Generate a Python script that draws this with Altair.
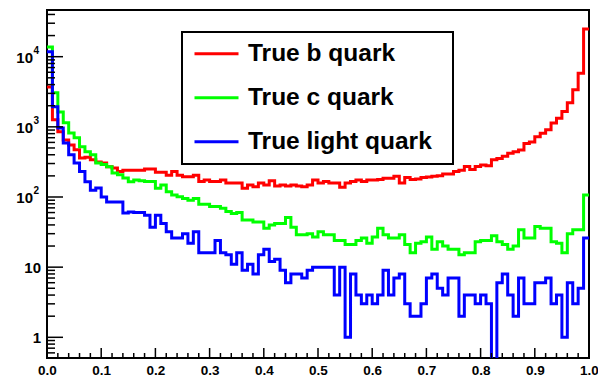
import altair as alt
import pandas as pd

# 100 equal-width bins over [0, 1]
bin_edges = [i / 100 for i in range(101)]

b_counts = [
    3700, 1260, 850, 650, 550, 470, 360, 370, 340, 315,
    305, 270, 260, 230, 240, 240, 241, 241, 250, 250,
    225, 225, 205, 230, 205, 195, 195, 205, 167, 175,
    167, 167, 175, 158, 158, 158, 133, 148, 140, 158,
    148, 171, 143, 148, 143, 148, 143, 140, 148, 175,
    158, 167, 158, 158, 138, 158, 167, 175, 167, 175,
    175, 178, 185, 185, 198, 158, 190, 178, 180, 190,
    193, 198, 201, 212, 212, 230, 241, 272, 247, 272,
    285, 278, 340, 355, 380, 420, 443, 467, 580, 610,
    720, 810, 910, 1130, 1330, 1660, 2200, 3380, 5800, 24800,
]
c_counts = [
    13800, 3070, 1630, 1140, 820, 700, 520, 440, 400, 305,
    290, 270, 220, 207, 187, 165, 175, 170, 167, 167,
    133, 148, 119, 107, 101, 95, 90, 95, 79, 79,
    73, 73, 69, 62, 58, 60, 47, 47, 44, 44,
    36, 40, 42, 42, 51, 37, 29, 29, 30, 27,
    32, 29, 29, 24, 24, 21, 21, 24, 26, 22,
    27, 36, 29, 26, 26, 29, 21, 16, 22, 23,
    27, 18, 23, 20, 18, 18, 15, 16, 16, 23,
    24, 24, 28, 23, 21, 18, 20, 34, 26, 26,
    38, 36, 36, 23, 22, 16, 30, 34, 34, 107,
]
light_counts = [
    11800, 1940, 960, 590, 400, 305, 230, 165, 125, 134,
    100, 85, 85, 85, 59, 61, 60, 60, 55, 37,
    55, 42, 32, 26, 26, 30, 22, 32, 16, 16,
    16, 24, 16, 15, 11, 16, 9, 11, 8, 15,
    18, 12, 13, 9, 6, 8, 8, 7, 9, 10,
    10, 10, 10, 4, 10, 1, 8, 4, 3, 4,
    3, 4, 9, 4, 7, 8, 3, 2, 2, 3,
    7, 8, 5, 4, 7, 7, 2, 4, 4, 3,
    4, 3, 0, 6, 8, 4, 2, 7, 3, 3,
    6, 6, 7, 3, 4, 1, 6, 3, 5, 26,
]

series_names = ["True b quark", "True c quark", "True light quark"]
series_colors = ["#ff0000", "#00ff00", "#0000ff"]

# axis decorations
x_major = [i / 10 for i in range(11)]
x_minor = [i / 50 for i in range(51) if i % 5 != 0]
y_major = [1, 10, 100, 1000, 10000]
y_minor = [m * 10 ** e for e in range(-1, 5) for m in range(2, 10)
           if 0.55 < m * 10 ** e < 46000]
y_plain_vals = [1, 10]
y_plain_text = ["1", "10"]
y_pow_vals = [100, 1000, 10000]
y_pow_exp = ["2", "3", "4"]

W, H = 542, 348
FONT = "Liberation Sans"
y_scale = alt.Scale(type="log", domain=[0.507, 46300], nice=False)
x_scale = alt.Scale(domain=[0, 1], nice=False, zero=False)
x_axis = alt.Axis(values=x_major, format=".1f", title=None, ticks=False,
                  domain=False, grid=False, labelFont=FONT,
                  labelFontWeight="bold", labelFontSize=13.5,
                  labelColor="black", labelPadding=5, labelFlush=False,
                  labelOverlap=False)

rows = []
for name, counts in zip(series_names, [b_counts, c_counts, light_counts]):
    # each count starts at its bin's lower edge; the last one is closed at x = 1
    for x, v in zip(bin_edges, counts + [counts[-1]]):
        rows.append({"x": x, "count": v, "sample": name})
hist_df = pd.DataFrame(rows)

hist = (
    alt.Chart(hist_df)
    .transform_calculate(shown="max(datum.count, 0.3)")  # empty bins drop to the floor
    .mark_line(interpolate="step-after", strokeWidth=3, clip=True)
    .encode(
        x=alt.X("x:Q", scale=x_scale, axis=x_axis),
        y=alt.Y("shown:Q", scale=y_scale, axis=None),
        color=alt.Color(
            "sample:N",
            scale=alt.Scale(domain=series_names, range=series_colors),
            legend=alt.Legend(
                orient="none", legendX=135, legendY=22, title=None,
                direction="vertical", fillColor="white", strokeColor="black",
                padding=0, rowPadding=0, clipHeight=43.7,
                symbolType="stroke", symbolSize=1936,
                symbolStrokeWidth=3, symbolOffset=11, labelOffset=8,
                labelFont=FONT, labelFontSize=24.5, labelFontWeight="bold",
                labelColor="black", labelLimit=400,
                # blank margin after each label (zero-width space keeps it from being trimmed)
                labelExpr="datum.label + '\u00a0\u00a0\u00a0\u200b'",
            ),
        ),
        order=alt.Order("x:Q"),
    )
)

def x_ticks(vals, length):
    return (
        alt.Chart(pd.DataFrame({"t": vals}))
        .mark_rule(color="black", strokeWidth=1.5)
        .encode(x=alt.X("t:Q", scale=x_scale, axis=x_axis),
                y=alt.value(H), y2=alt.value(H - length))
    )

def y_ticks(vals, length):
    return (
        alt.Chart(pd.DataFrame({"t": vals}))
        .mark_rule(color="black", strokeWidth=1.5)
        .encode(y=alt.Y("t:Q", scale=y_scale, axis=None),
                x=alt.value(0), x2=alt.value(length))
    )

plain_labels = (
    alt.Chart(pd.DataFrame({"t": y_plain_vals, "txt": y_plain_text}))
    .mark_text(align="right", baseline="middle", font=FONT, fontWeight="bold",
               fontSize=15, color="black", dy=1)
    .encode(y=alt.Y("t:Q", scale=y_scale, axis=None), x=alt.value(-6), text="txt:N")
)
pow_base = (
    alt.Chart(pd.DataFrame({"t": y_pow_vals}))
    .mark_text(align="right", baseline="middle", font=FONT, fontWeight="bold",
               fontSize=15, color="black", dy=1)
    .encode(y=alt.Y("t:Q", scale=y_scale, axis=None), x=alt.value(-14),
            text=alt.value("10"))
)
pow_exp = (
    alt.Chart(pd.DataFrame({"t": y_pow_vals, "e": y_pow_exp}))
    .mark_text(align="left", baseline="middle", font=FONT, fontWeight="bold",
               fontSize=10, color="black", dy=-6)
    .encode(y=alt.Y("t:Q", scale=y_scale, axis=None), x=alt.value(-13.5),
            text="e:N")
)

chart = (
    alt.layer(
        hist,
        x_ticks(x_major, 10), x_ticks(x_minor, 5),
        y_ticks(y_major, 16), y_ticks(y_minor, 8),
        plain_labels, pow_base, pow_exp,
    )
    .properties(width=W, height=H, background="white",
                autosize=alt.AutoSizeParams(type="none"),
                padding={"left": 47, "top": 10, "right": 9, "bottom": 20})
    .configure_view(stroke="black", strokeWidth=2)
    .configure_legend(strokeWidth=2)
)

chart.save("out.html", embed_options={"renderer": "svg", "actions": False})
